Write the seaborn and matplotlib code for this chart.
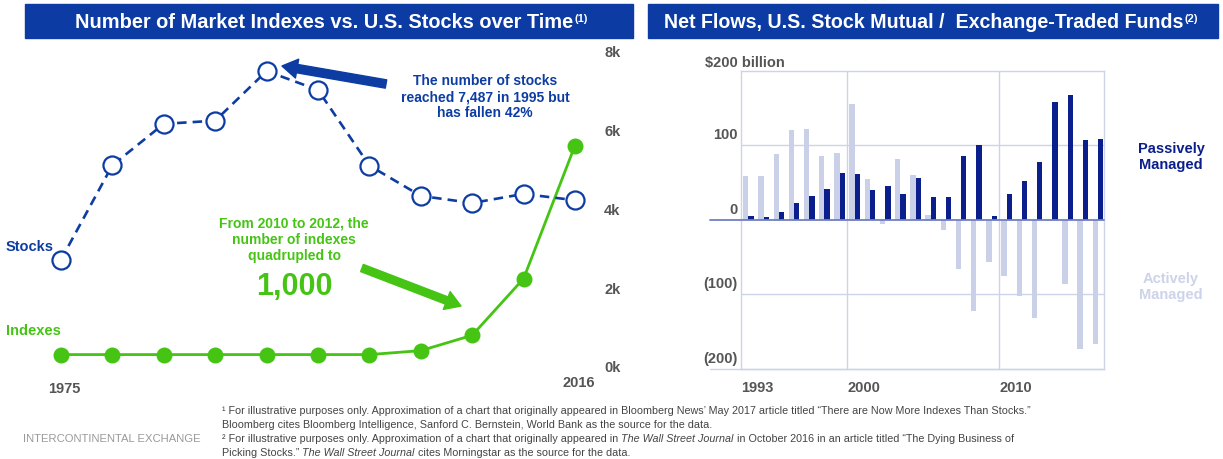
import matplotlib
matplotlib.use("Agg")
import matplotlib.pyplot as plt
import numpy as np
import pandas as pd
import seaborn as sns
from matplotlib import font_manager
from matplotlib.transforms import blended_transform_factory

# ---------------- data ----------------
left_years = ["1975", "1980", "1985", "1990", "1995", "2000", "2005", "2008", "2010", "2012", "2016"]
stocks_k = [2.70, 5.10, 6.15, 6.23, 7.49, 7.01, 5.09, 4.32, 4.14, 4.37, 4.21]
indexes_k = [0.29, 0.29, 0.29, 0.29, 0.29, 0.29, 0.29, 0.39, 0.78, 2.22, 5.60]
left_yticks = [0, 2, 4, 6, 8]
left_yticklabels = ["0k", "2k", "4k", "6k", "8k"]
left_xlabels = ["1975", "2016"]

flow_years = [str(y) for y in range(1993, 2017)]
passive_bn = [4.5, 3.6, 11, 23, 32, 41.5, 63, 61, 40, 46, 34, 56, 31, 30,
              86, 101, 5, 34, 52, 77, 158, 167, 107, 109]
active_bn = [59, 58.5, 88, 120.5, 122, 86, 90, 155, 55, -6, 82, 60, 7, -14,
             -66, -122, -56, -75, -102, -131, -2, -86, -173, -166]
right_yticks = [100, 0, -100, -200]
right_yticklabels = ["100", "0", "(100)", "(200)"]
right_top_label = r"\$200 billion"
right_xlabels = ["1993", "2000", "2010"]

title_left = "Number of Market Indexes vs. U.S. Stocks over Time"
title_right = "Net Flows, U.S. Stock Mutual /  Exchange-Traded Funds"

# ---------------- style ----------------
sns.set_style("white")
avail = {f.name for f in font_manager.fontManager.ttflist}
BASE = "Liberation Sans" if "Liberation Sans" in avail else "DejaVu Sans"
NARROW = "Liberation Sans Narrow" if "Liberation Sans Narrow" in avail else BASE
plt.rcParams["font.family"] = [BASE, "DejaVu Sans"]

BANNER = "#0B3BA3"
BLUE = "#0D3DA3"
GREEN = "#45C414"
DARK = "#0A1E8C"
LIGHT = "#C9D0E7"
GRID = "#CDD4EA"
ZERO = "#7080BE"
TICK = "#555555"

W, H = 1223, 460
fig = plt.figure(figsize=(W / 100, H / 100), dpi=100)
fig.patch.set_facecolor("white")


def fx(x):
    return x / W


def fy(y):
    return 1 - y / H


renderer = fig.canvas.get_renderer()


def fit_text(t, target_w):
    w = t.get_window_extent(renderer).width
    t.set_fontsize(t.get_fontsize() * target_w / w)


# ---------------- banners ----------------
for x0, x1 in [(25, 633), (648, 1218)]:
    fig.patches.append(plt.Rectangle((fx(x0), fy(39)), (x1 - x0) / W, 34 / H,
                                     transform=fig.transFigure, color=BANNER, zorder=0))


def banner_title(text, sup, x_left, target_w, y=22):
    t = fig.text(fx(x_left), fy(y), text, color="white", fontsize=13, fontweight="bold",
                 ha="left", va="center")
    fit_text(t, target_w)
    bb = t.get_window_extent(renderer)
    fig.text((bb.x1 + 1) / W, (bb.y1 - 1) / H, sup, color="white", fontsize=8,
             fontweight="bold", ha="left", va="top")


banner_title(title_left, "(1)", 75, 498)
banner_title(title_right, "(2)", 664, 519)

# ---------------- left chart ----------------
ax1 = fig.add_axes([fx(40), fy(367), 560 / W, 315 / H])
pos = np.arange(len(left_years))
df_left = pd.DataFrame({"pos": pos, "stocks": stocks_k, "indexes": indexes_k})

sns.lineplot(data=df_left, x="pos", y="indexes", ax=ax1, color=GREEN, linewidth=2.0,
             marker="o", markersize=11.5, markerfacecolor=GREEN, markeredgecolor=GREEN,
             markeredgewidth=0, clip_on=False, zorder=3)
sns.lineplot(data=df_left, x="pos", y="stocks", ax=ax1, color=BLUE, linewidth=1.9,
             marker="o", markersize=13, markerfacecolor="white", markeredgecolor=BLUE,
             markeredgewidth=1.6, clip_on=False, zorder=4)
ax1.lines[-1].set_dashes([3.6, 2.3])

per = (575 - 61) / 10
ax1.set_xlim(-(61 - 40) / per, 10 + (600 - 575) / per)
ax1.set_ylim(0, 8)
for s in ax1.spines.values():
    s.set_visible(False)
ax1.set_xticks([])
ax1.yaxis.tick_right()
ax1.set_yticks(left_yticks)
ax1.set_yticklabels(left_yticklabels, fontsize=10.5, fontweight="bold", color=TICK)
ax1.tick_params(axis="y", length=0, pad=3)
ax1.set_xlabel("")
ax1.set_ylabel("")
ax1.patch.set_alpha(0)

fig.text(fx(64), fy(389), left_xlabels[0], fontsize=10.5, fontweight="bold", color=TICK,
         ha="center", va="center")
fig.text(fx(579), fy(383), left_xlabels[1], fontsize=10.5, fontweight="bold", color=TICK,
         ha="center", va="center")

fig.text(fx(6), fy(247), "Stocks", fontsize=10.5, fontweight="bold", color=BLUE,
         ha="left", va="center")
fig.text(fx(6), fy(331), "Indexes", fontsize=10.5, fontweight="bold", color=GREEN,
         ha="left", va="center")

fig.text(fx(485), fy(97), "The number of stocks\nreached 7,487 in 1995 but\nhas fallen 42%",
         fontsize=10, fontweight="bold", color=BLUE, ha="center", va="center",
         linespacing=1.2)
fig.text(fx(294), fy(240), "From 2010 to 2012, the\nnumber of indexes\nquadrupled to",
         fontsize=10, fontweight="bold", color=GREEN, ha="center", va="center",
         linespacing=1.2)
fig.text(fx(294), fy(287), "1,000", fontsize=22, fontweight="bold", color=GREEN,
         ha="center", va="center")

ax1.annotate("", xy=(282, H - 67), xycoords="figure pixels",
             xytext=(386, H - 85), textcoords="figure pixels",
             arrowprops=dict(arrowstyle="simple,head_length=1.0,head_width=1.25,tail_width=0.55",
                             mutation_scale=11, color=BLUE, shrinkA=0, shrinkB=0))
ax1.annotate("", xy=(461, H - 307), xycoords="figure pixels",
             xytext=(362, H - 269), textcoords="figure pixels",
             arrowprops=dict(arrowstyle="simple,head_length=1.0,head_width=1.25,tail_width=0.5",
                             mutation_scale=11, color=GREEN, shrinkA=0, shrinkB=0))

# ---------------- right chart ----------------
L, R, T, B = 740.7, 1104, 71.7, 370
ax2 = fig.add_axes([fx(L), fy(B), (R - L) / W, (B - T) / H])
df_right = pd.DataFrame({
    "year": flow_years * 2,
    "value": active_bn + passive_bn,
    "type": ["Actively Managed"] * len(flow_years) + ["Passively Managed"] * len(flow_years),
})
sns.barplot(data=df_right, x="year", y="value", hue="type",
            hue_order=["Actively Managed", "Passively Managed"],
            palette=[LIGHT, DARK], width=0.7, dodge=True, saturation=1,
            errorbar=None, legend=False, ax=ax2, zorder=2, linewidth=0,
            edgecolor="none")

off = 0.51
ax2.set_xlim(-off, len(flow_years) - 1 + 0.4)
ax2.set_ylim(-200, 200)
ax2.set_xticks([])
ax2.set_yticks([])
ax2.set_xlabel("")
ax2.set_ylabel("")
for s in ax2.spines.values():
    s.set_color(GRID)
    s.set_linewidth(1.0)
for v in (100, -100):
    ax2.axhline(v, color=GRID, lw=1.0, zorder=1)
for yl in ("2000", "2010"):
    ax2.axvline(flow_years.index(yl) - off, color=GRID, lw=1.0, zorder=1)
ext = (L - 710) / (R - L)
ax2.axhline(0, xmin=-ext, xmax=1, color=ZERO, lw=1.3, zorder=3, clip_on=False)
ax2.axhline(-200, xmin=-ext, xmax=1, color=GRID, lw=1.0, zorder=3, clip_on=False)

btr = blended_transform_factory(ax2.transAxes, ax2.transData)
for v, lab in zip(right_yticks, right_yticklabels):
    ax2.annotate(lab, xy=(-0.009, v), xycoords=btr, xytext=(0, 11), textcoords="offset pixels",
                 fontsize=10.5, fontweight="bold", color=TICK, ha="right", va="center",
                 annotation_clip=False)
ax2.annotate(right_top_label, xy=(-0.098, 200), xycoords=btr, xytext=(0, 9),
             textcoords="offset pixels", fontsize=10.5, fontweight="bold", color=TICK,
             ha="left", va="center", annotation_clip=False)
btx = blended_transform_factory(ax2.transData, fig.transFigure)
for yl in right_xlabels:
    ax2.text(flow_years.index(yl) - off + 0.05, fy(388), yl, transform=btx, fontsize=10.5,
             fontweight="bold", color=TICK, ha="left", va="center")

fig.text(fx(1171), fy(157), "Passively\nManaged", fontsize=10.5, fontweight="bold",
         color=DARK, ha="center", va="center", linespacing=1.15)
fig.text(fx(1171), fy(287), "Actively\nManaged", fontsize=10.5, fontweight="bold",
         color="#CDD3E8", ha="center", va="center", linespacing=1.15)

# ---------------- footnotes ----------------
FOOT = "#444444"
fn1 = fig.text(fx(222), fy(414), "¹ For illustrative purposes only. Approximation of a chart that originally "
               "appeared in Bloomberg News’ May 2017 article titled “There are Now More Indexes Than Stocks.”",
               fontsize=7, color=FOOT, family=[NARROW, "DejaVu Sans"], ha="left", va="baseline")
fit_text(fn1, 798)
FS = fn1.get_fontsize()


def chain(parts, x, y):
    cx = x
    for txt, st in parts:
        t = fig.text(cx / W, fy(y), txt, fontsize=FS, color=FOOT, style=st,
                     family=[NARROW, "DejaVu Sans"], ha="left", va="baseline")
        cx = t.get_window_extent(renderer).x1


chain([("Bloomberg cites Bloomberg Intelligence, Sanford C. Bernstein, World Bank as the source for the data.",
        "normal")], 222, 428)
chain([("² For illustrative purposes only. Approximation of a chart that originally appeared in ", "normal"),
       ("The Wall Street Journal", "italic"),
       (" in October 2016 in an article titled “The Dying Business of", "normal")], 222, 442)
chain([("Picking Stocks.” ", "normal"), ("The Wall Street Journal", "italic"),
       (" cites Morningstar as the source for the data.", "normal")], 222, 456)

ice = fig.text(fx(23), fy(439), "INTERCONTINENTAL EXCHANGE", fontsize=8, color="#9A9A9A",
               ha="left", va="center")
fit_text(ice, 178)

fig.savefig("out.png", dpi=100, facecolor="white")
